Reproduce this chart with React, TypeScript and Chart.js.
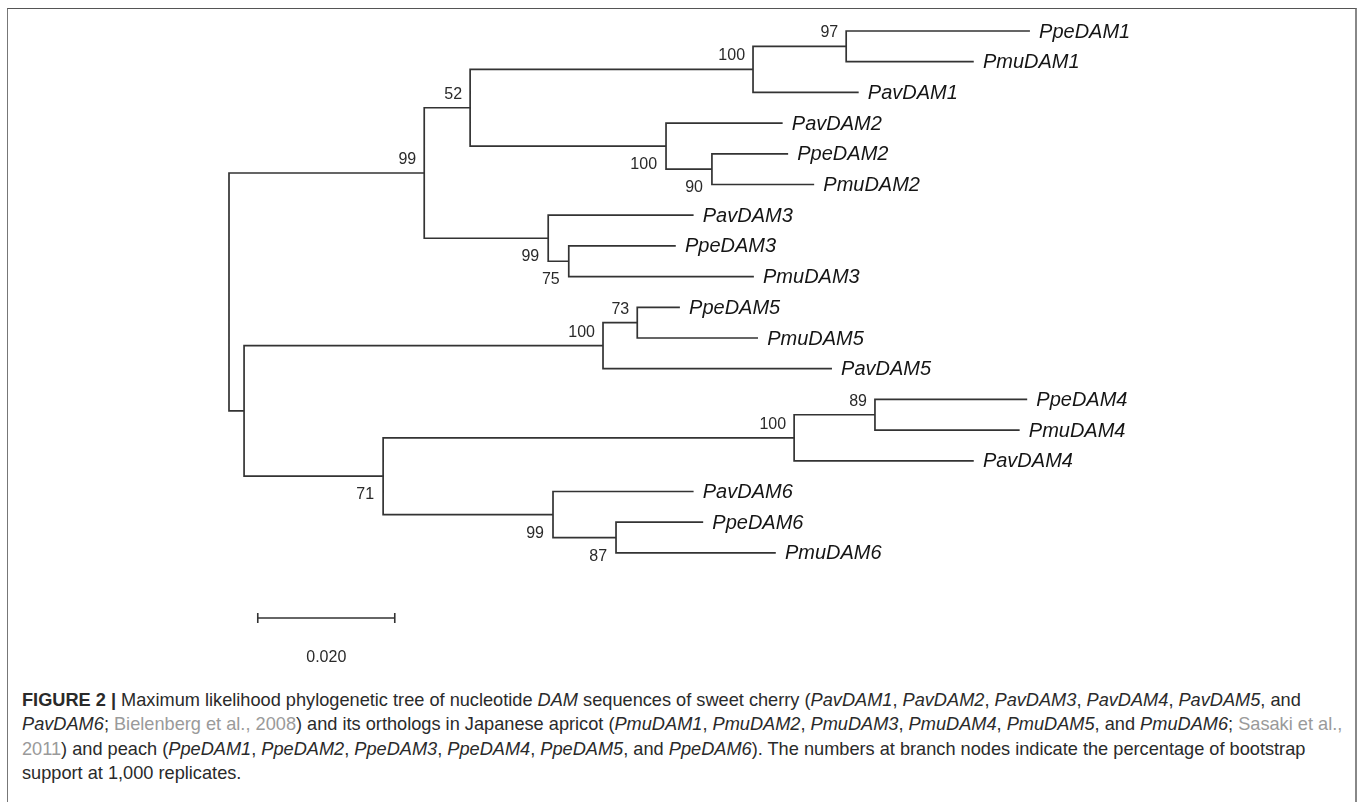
import React, { useEffect, useRef } from 'react';
import { Chart, registerables } from 'chart.js';

Chart.register(...registerables);

// ---- Data (branch depths in substitutions/site from the root) ----
const leafNames = [
  'PpeDAM1', 'PmuDAM1', 'PavDAM1', 'PavDAM2', 'PpeDAM2', 'PmuDAM2',
  'PavDAM3', 'PpeDAM3', 'PmuDAM3', 'PpeDAM5', 'PmuDAM5', 'PavDAM5',
  'PpeDAM4', 'PmuDAM4', 'PavDAM4', 'PavDAM6', 'PpeDAM6', 'PmuDAM6',
];
const leafDepths = [
  0.1168, 0.1086, 0.0918, 0.0807, 0.0815, 0.0853,
  0.0677, 0.0651, 0.0765, 0.0657, 0.0771, 0.0879,
  0.1164, 0.1153, 0.1086, 0.0677, 0.0691, 0.0797,
];
const nodeIds = ['root', 'A', 'n52', 'n100a', 'n97', 'n100b', 'n90', 'n99a', 'n75', 'B', 'n100c', 'n73', 'n71', 'n100d', 'n89', 'n99b', 'n87'];
const nodeDepths = [0, 0.0285, 0.0352, 0.0765, 0.0901, 0.0638, 0.0705, 0.0466, 0.0496, 0.0022, 0.0546, 0.0596, 0.0225, 0.0825, 0.0943, 0.0473, 0.0565];
const nodeChildren = [
  ['A', 'B'], ['n52', 'n99a'], ['n100a', 'n100b'], ['n97', 'L2'], ['L0', 'L1'],
  ['L3', 'n90'], ['L4', 'L5'], ['L6', 'n75'], ['L7', 'L8'], ['n100c', 'n71'],
  ['n73', 'L11'], ['L9', 'L10'], ['n100d', 'n99b'], ['n89', 'L14'], ['L12', 'L13'],
  ['L15', 'n87'], ['L16', 'L17'],
];
const nodeBootstrap = [null, 99, 52, 100, 97, 100, 90, 99, 75, null, 100, 73, 71, 100, 89, 99, 87];
const scaleBarLength = 0.02;
const scaleBarLabel = '0.020';
const scaleBarStart = 0.0042;
const scaleBarRow = 19.12;

// ---- Layout constants ----
const W = 1358;
const H = 680;
const PX_PER_UNIT = 6850;
const ROOT_PX = 229;
const ROW_PX = 30.7;
const FIRST_ROW_PX = 31;

const LINE_COLOR = '#333333';
const TIP_FONT = 'italic 20px "Liberation Sans", Arial, sans-serif';
const BOOT_FONT = '16px "Liberation Sans Narrow", "Liberation Sans", Arial, sans-serif';

type P = { x: number; y: number };

function buildTree() {
  const pos: Record<string, P> = {};
  leafNames.forEach((_, i) => { pos['L' + i] = { x: leafDepths[i], y: i }; });
  const getPos = (id: string): P => {
    if (pos[id]) return pos[id];
    const k = nodeIds.indexOf(id);
    const ch = nodeChildren[k].map(getPos);
    const p = { x: nodeDepths[k], y: (ch[0].y + ch[ch.length - 1].y) / 2 };
    pos[id] = p;
    return p;
  };
  nodeIds.forEach(getPos);
  const segs: any[] = [];
  const boots: { x: number; y: number; v: number; above: boolean }[] = [];
  nodeIds.forEach((id, k) => {
    const p = pos[id];
    nodeChildren[k].forEach((c, j) => {
      const cp = pos[c];
      segs.push({ x: p.x, y: p.y }, { x: p.x, y: cp.y }, { x: cp.x, y: cp.y }, { x: null, y: null });
      if (c[0] === 'n' || c === 'A' || c === 'B') {
        const ck = nodeIds.indexOf(c);
        const b = nodeBootstrap[ck];
        if (b !== null && b !== undefined) boots.push({ x: cp.x, y: cp.y, v: b as number, above: j === 0 });
      }
    });
  });
  return { pos, segs, boots };
}

const labelPlugin = {
  id: 'treeLabels',
  afterDatasetsDraw(chart: any) {
    const { ctx } = chart;
    const xs = chart.scales.x;
    const ys = chart.scales.y;
    const { boots } = chart.config.options.plugins.treeLabels;
    ctx.save();
    // tip labels
    ctx.font = TIP_FONT;
    ctx.fillStyle = '#151515';
    ctx.textAlign = 'left';
    ctx.textBaseline = 'middle';
    leafNames.forEach((n, i) => {
      ctx.fillText(n, xs.getPixelForValue(leafDepths[i]) + 10, ys.getPixelForValue(i) + 1);
    });
    // bootstrap labels
    ctx.font = BOOT_FONT;
    ctx.fillStyle = '#2a2a2a';
    ctx.textAlign = 'right';
    ctx.textBaseline = 'alphabetic';
    boots.forEach((b: any) => {
      const px = xs.getPixelForValue(b.x);
      const py = ys.getPixelForValue(b.y);
      if (b.above) ctx.fillText(String(b.v), px - 8, py - 9);
      else ctx.fillText(String(b.v), px - 9, py + 23);
    });
    // scale bar ticks and label
    const x0 = xs.getPixelForValue(scaleBarStart);
    const x1 = xs.getPixelForValue(scaleBarStart + scaleBarLength);
    const yb = ys.getPixelForValue(scaleBarRow);
    ctx.strokeStyle = LINE_COLOR;
    ctx.lineWidth = 1.6;
    ctx.beginPath();
    ctx.moveTo(x0, yb - 5); ctx.lineTo(x0, yb + 5);
    ctx.moveTo(x1, yb - 5); ctx.lineTo(x1, yb + 5);
    ctx.stroke();
    ctx.font = '16px "Liberation Sans Narrow", "Liberation Sans", Arial, sans-serif';
    ctx.fillStyle = '#2a2a2a';
    ctx.textAlign = 'center';
    ctx.textBaseline = 'middle';
    ctx.fillText(scaleBarLabel, (x0 + x1) / 2, yb + 40);
    ctx.restore();
  },
};

export default function App() {
  const ref = useRef<HTMLCanvasElement>(null);
  useEffect(() => {
    const { segs, boots } = buildTree();
    const xMin = -ROOT_PX / PX_PER_UNIT;
    const xMax = xMin + W / PX_PER_UNIT;
    const yMin = -FIRST_ROW_PX / ROW_PX;
    const yMax = yMin + H / ROW_PX;
    const chart = new Chart(ref.current as HTMLCanvasElement, {
      type: 'scatter',
      data: {
        datasets: [
          {
            data: segs,
            showLine: true,
            spanGaps: false,
            borderColor: LINE_COLOR,
            borderWidth: 1.7,
            pointRadius: 0,
            borderCapStyle: 'square',
            borderJoinStyle: 'miter',
          } as any,
          {
            data: [{ x: scaleBarStart, y: scaleBarRow }, { x: scaleBarStart + scaleBarLength, y: scaleBarRow }],
            showLine: true,
            borderColor: LINE_COLOR,
            borderWidth: 1.7,
            pointRadius: 0,
          } as any,
        ],
      },
      options: {
        responsive: false,
        animation: false,
        devicePixelRatio: 1,
        events: [],
        layout: { padding: 0 },
        scales: {
          x: { type: 'linear', min: xMin, max: xMax, display: false },
          y: { type: 'linear', min: yMin, max: yMax, reverse: true, display: false },
        },
        plugins: {
          legend: { display: false },
          tooltip: { enabled: false },
          treeLabels: { boots },
        } as any,
      },
      plugins: [labelPlugin],
    });
    return () => chart.destroy();
  }, []);

  const gray = { color: '#9a9a9a' };
  return (
    <div style={{ position: 'fixed', left: 0, top: 0, width: W, height: 802, overflow: 'hidden', background: '#fff' }}>
      <div style={{ position: 'absolute', left: 7, top: 8, width: 1350, height: 900, boxSizing: 'border-box', borderTop: '1px solid #555', borderLeft: '1px solid #777', borderRight: '2px solid #888' }} />
      <canvas ref={ref} width={W} height={H} style={{ position: 'absolute', left: 0, top: 0, width: W, height: H }} />
      <div style={{ position: 'absolute', left: 22, top: 688, fontFamily: '"Liberation Sans Narrow", "Liberation Sans", Arial, sans-serif', fontSize: 18.2, lineHeight: '24.3px', color: '#2a2a2a', whiteSpace: 'nowrap' }}>
        <div><b>FIGURE 2 |</b> Maximum likelihood phylogenetic tree of nucleotide <i>DAM</i> sequences of sweet cherry (<i>PavDAM1</i>, <i>PavDAM2</i>, <i>PavDAM3</i>, <i>PavDAM4</i>, <i>PavDAM5</i>, and</div>
        <div><i>PavDAM6</i>; <span style={gray}>Bielenberg et al., 2008</span>) and its orthologs in Japanese apricot (<i>PmuDAM1</i>, <i>PmuDAM2</i>, <i>PmuDAM3</i>, <i>PmuDAM4</i>, <i>PmuDAM5</i>, and <i>PmuDAM6</i>; <span style={gray}>Sasaki et al.,</span></div>
        <div><span style={gray}>2011</span>) and peach (<i>PpeDAM1</i>, <i>PpeDAM2</i>, <i>PpeDAM3</i>, <i>PpeDAM4</i>, <i>PpeDAM5</i>, and <i>PpeDAM6</i>). The numbers at branch nodes indicate the percentage of bootstrap</div>
        <div>support at 1,000 replicates.</div>
      </div>
    </div>
  );
}
